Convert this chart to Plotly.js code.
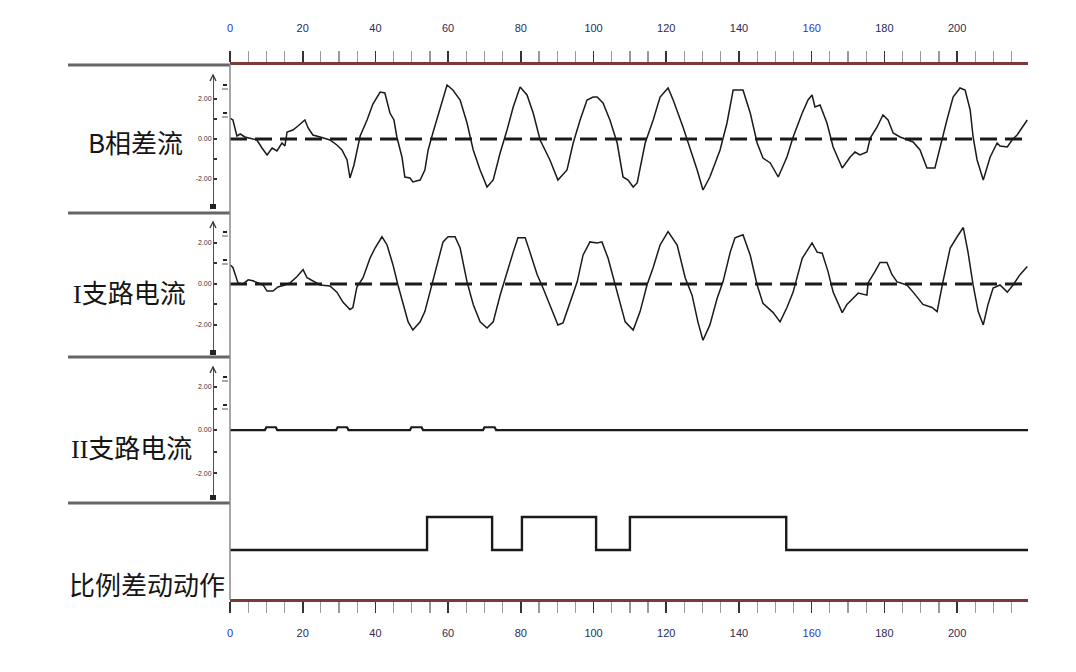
<!DOCTYPE html>
<html>
<head>
<meta charset="utf-8">
<script src="https://cdn.plot.ly/plotly-3.0.1.min.js"></script>
<style>html,body{margin:0;padding:0;background:#fff;}#chart{width:1076px;height:672px;}</style>
</head>
<body>
<div id="chart"></div>
<script>
// ---------- data ----------
const panelLabels = ["B相差流", "<span style='font-family:Liberation Serif'>I</span>支路电流", "<span style='font-family:Liberation Serif'>II</span>支路电流", "比例差动动作"];
const xTickVals = [0, 20, 40, 60, 80, 100, 120, 140, 160, 180, 200];
const xTickText = ["<span style='color:#2233cc'>0</span>", "20", "40", "60", "80", "100", "120", "140", "<span style='color:#3333cc'>160</span>", "180", "200"];
const yTickVals = [-2, -1, 0, 1, 2];
const yTickText = ["-2.00", "", "0.00", "", "2.00"];
const xEnd = 219.5;

const bDiffX = [0,0.8,1.9,2.8,4.1,5.5,7.4,8.8,10.2,11.6,12.9,14.3,15.1,15.7,17.3,18.7,20.6,21.5,22.8,24.8,27.5,29.4,30.8,32.2,33.0,34.1,34.9,35.8,37.7,39.3,41.3,42.6,44.0,45.1,45.9,47.3,48.1,49.5,50.3,52.3,53.6,54.5,55.8,57.8,59.7,61.3,63.3,65.2,66.9,68.8,70.7,72.4,74.3,76.2,77.9,79.8,81.7,83.4,85.3,88.0,90.2,92.7,94.4,96.3,98.2,99.9,101.0,102.6,104.5,106.5,108.1,109.5,110.9,112.0,112.8,114.2,116.4,118.3,120.5,121.9,124.6,126.5,128.5,130.1,132.0,134.8,136.7,138.4,141.1,143.1,145.0,146.6,148.6,150.8,153.2,154.9,157.4,159.0,160.1,160.9,162.3,164.2,165.9,168.4,170.6,171.9,173.3,175.2,176.1,178.0,179.6,181.0,182.4,184.3,187.9,189.8,191.7,193.9,195.3,197.2,198.9,200.8,202.2,203.6,204.4,205.5,207.2,209.1,211.0,211.8,213.8,215.1,216.5,219.3];
const bDiffY = [1.05,0.95,0.15,0.25,0.1,0.05,-0.05,-0.45,-0.8,-0.45,-0.6,-0.2,-0.35,0.35,0.45,0.65,0.95,0.55,0.2,0.1,-0.05,-0.3,-0.55,-1.05,-1.95,-1.3,-0.55,0.15,0.95,1.75,2.35,2.3,1.3,0.95,0.1,-0.9,-1.9,-1.95,-2.15,-2.05,-1.55,-0.55,0.3,1.6,2.7,2.45,1.95,0.8,-0.55,-1.55,-2.4,-2.05,-0.7,0.45,1.6,2.6,2.2,1.3,-0.05,-1.05,-2.05,-1.55,-0.2,0.95,1.95,2.1,2.1,1.8,0.95,-0.2,-1.9,-2.05,-2.4,-2.2,-1.4,-0.2,0.95,2.1,2.55,1.95,0.6,-0.4,-1.55,-2.55,-1.9,-0.55,0.8,2.45,2.45,1.3,-0.2,-0.95,-1.2,-1.9,-0.9,0.1,1.3,1.95,2.2,1.6,1.7,0.8,-0.4,-1.45,-0.9,-0.65,-0.8,-0.65,0.05,0.6,1.2,0.95,0.3,0.1,-0.15,-0.55,-1.45,-1.45,-0.4,0.95,2.1,2.55,2.45,1.45,0.1,-1.05,-2.05,-0.9,-0.2,-0.35,-0.4,-0.05,0.2,0.95];

const branch1X = [0,0.8,2.2,3.6,5.0,6.3,9.1,10.2,11.8,13.2,15.1,16.5,18.4,20.1,21.2,23.4,24.8,27.5,29.4,31.1,33.0,33.8,34.9,36.6,38.5,39.9,41.8,43.2,44.8,46.2,47.6,49.0,50.3,52.3,53.6,55.0,56.9,58.6,60.0,61.9,63.3,65.2,66.9,68.8,70.7,72.4,74.3,76.2,77.9,79.2,81.2,82.5,84.5,86.1,88.0,90.2,91.6,93.5,95.5,97.1,99.0,101.0,102.3,104.0,105.9,107.3,108.7,110.9,112.8,114.7,116.4,118.3,120.5,123.0,125.2,127.1,128.7,130.1,132.0,134.0,135.6,137.6,138.9,141.1,143.1,145.0,146.6,149.4,151.3,153.2,154.9,157.4,160.1,161.5,162.9,164.5,165.9,168.4,169.7,171.4,172.8,175.2,175.5,177.4,178.8,180.7,182.1,183.5,186.2,187.9,190.6,193.1,194.5,196.1,198.1,200.0,201.7,203.0,204.4,205.8,207.2,208.5,209.9,211.8,213.8,215.4,217.3,219.3];
const branch1Y = [0.93,0.8,0.05,0,0.2,0.15,-0.05,-0.35,-0.35,-0.15,-0.05,0.05,0.35,0.7,0.3,0.1,-0.05,-0.1,-0.4,-0.9,-1.25,-1.15,-0.15,0.3,1.25,1.75,2.3,1.9,0.95,-0.05,-0.9,-1.85,-2.25,-1.85,-1.35,-0.4,0.95,2.05,2.3,2.3,1.75,0.1,-1.0,-1.85,-2.15,-1.85,-0.55,0.6,1.55,2.25,2.25,1.55,0.45,-0.2,-1.0,-2.0,-1.9,-0.9,0.1,1.4,2.05,2.0,2.05,1.25,-0.05,-0.9,-1.85,-2.25,-1.35,-0.05,0.8,1.9,2.55,1.9,0.3,-0.55,-1.85,-2.75,-2.0,-0.7,0.1,1.55,2.25,2.4,1.4,-0.05,-0.95,-1.4,-1.85,-1.15,-0.4,1.25,2.0,1.55,1.5,0.6,-0.4,-1.4,-1.0,-0.7,-0.45,-0.55,0.05,0.6,1.05,1.05,0.45,0.1,-0.05,-0.4,-1.0,-1.15,-1.35,0.1,1.75,2.3,2.75,1.55,-0.05,-1.35,-2.0,-1.0,-0.2,-0.05,-0.4,-0.05,0.45,0.85];

const branch2X = [0,9.6,10.0,12.6,13.0,29.2,29.6,32.2,32.6,49.5,49.9,52.7,53.1,69.6,70.0,72.8,73.2,219.5];
const branch2Y = [0,0,0.13,0.13,0,0,0.13,0.13,0,0,0.13,0.13,0,0,0.13,0.13,0,0];

const tripX = [0, 54.2, 72.1, 80.3, 100.7, 110.0, 153.0, 219.5];
const tripY = [0, 1, 0, 1, 0, 1, 0, 0];

// ---------- layout helpers (pixel -> paper) ----------
const W = 1076, H = 672;
const fx = p => p / W;
const fy = p => 1 - p / H;

const waveLine = {color: '#1a1a1a', width: 1.5};
const dashLine = {color: '#1a1a1a', width: 3, dash: '17px,8px'};

const traces = [
  {x: [0, xEnd], y: [0, 0], xaxis: 'x', yaxis: 'y', mode: 'lines', line: dashLine, hoverinfo: 'skip'},
  {x: bDiffX, y: bDiffY, xaxis: 'x', yaxis: 'y', mode: 'lines', line: waveLine},
  {x: [0, xEnd], y: [0, 0], xaxis: 'x', yaxis: 'y2', mode: 'lines', line: dashLine, hoverinfo: 'skip'},
  {x: branch1X, y: branch1Y, xaxis: 'x', yaxis: 'y2', mode: 'lines', line: waveLine},
  {x: branch2X, y: branch2Y, xaxis: 'x', yaxis: 'y3', mode: 'lines', line: {color: '#1a1a1a', width: 2.2}},
  {x: tripX, y: tripY, xaxis: 'x', yaxis: 'y4', mode: 'lines', line: {color: '#1a1a1a', width: 2.4, shape: 'hv'}},
  {x: [0], y: [0], xaxis: 'x2', yaxis: 'y', mode: 'markers', marker: {opacity: 0}, hoverinfo: 'skip'}
];

const xCommon = {
  domain: [fx(230), fx(1028)], range: [0, xEnd], anchor: 'free',
  showline: true, linecolor: '#7b3a36', linewidth: 2.5,
  showgrid: false, zeroline: false,
  ticks: 'outside', ticklen: 11, tickwidth: 1.6, tickcolor: '#333',
  tickvals: xTickVals, ticktext: xTickText,
  tickfont: {family: 'Liberation Sans Narrow, Arial Narrow, sans-serif', size: 11, color: '#2b2b55'},
  minor: {dtick: 5, tick0: 0, ticks: 'outside', ticklen: 11, tickwidth: 1.2, tickcolor: '#9a9a9a', showgrid: false}
};

function yAx(topPx, botPx, range) {
  return {
    domain: [fy(botPx), fy(topPx)], range: range, anchor: 'free', position: fx(213),
    showline: true, linecolor: '#4a4a66', linewidth: 1.4,
    showgrid: false, zeroline: false,
    ticks: 'inside', ticklen: 3, tickwidth: 2, tickcolor: '#333',
    tickvals: yTickVals, ticktext: yTickText,
    tickfont: {family: 'Liberation Sans Narrow, Arial Narrow, sans-serif', size: 7, color: '#333333'}
  };
}

const shapes = [];
[65, 213, 357, 503].forEach(y => shapes.push({type: 'line', xref: 'paper', yref: 'paper', x0: fx(68), x1: fx(230), y0: fy(y), y1: fy(y), line: {color: '#666', width: 3}}));
shapes.push({type: 'line', xref: 'paper', yref: 'paper', x0: fx(230), x1: fx(230), y0: fy(64), y1: fy(600), line: {color: '#8a8a8a', width: 1.5}});
[[75, 207], [222, 353], [367, 498]].forEach(([t, b]) => {
  shapes.push({type: 'path', xref: 'paper', yref: 'paper',
    path: `M ${fx(210)} ${fy(t + 6)} L ${fx(213)} ${fy(t)} L ${fx(216)} ${fy(t + 6)}`, line: {color: '#333', width: 1.3}});
  shapes.push({type: 'rect', xref: 'paper', yref: 'paper', x0: fx(210), x1: fx(216), y0: fy(b + 2), y1: fy(b - 3), fillcolor: '#222', line: {width: 0}});
  [t + 10, t + 38].forEach(yy => {
    shapes.push({type: 'line', xref: 'paper', yref: 'paper', x0: fx(223), x1: fx(227), y0: fy(yy), y1: fy(yy), line: {color: '#222', width: 2}});
    shapes.push({type: 'line', xref: 'paper', yref: 'paper', x0: fx(222), x1: fx(228), y0: fy(yy + 4), y1: fy(yy + 4), line: {color: '#aaa', width: 2}});
  });
});

const labelPos = [[135, 141], [129, 291], [131, 446], [147, 583]];
const annotations = panelLabels.map((t, i) => ({
  text: t, xref: 'paper', yref: 'paper', x: fx(labelPos[i][0]), y: fy(labelPos[i][1]),
  xanchor: 'center', yanchor: 'middle', showarrow: false,
  font: {family: 'Noto Sans CJK SC, sans-serif', size: 26, color: '#151515'}
}));

const layout = {
  width: W, height: H, margin: {l: 0, r: 0, t: 0, b: 0},
  paper_bgcolor: '#fff', plot_bgcolor: 'rgba(0,0,0,0)', showlegend: false,
  xaxis: Object.assign({}, xCommon, {position: fy(600), side: 'bottom', ticklabelstandoff: 11}),
  xaxis2: Object.assign({}, xCommon, {position: fy(63), side: 'top', overlaying: 'x', matches: 'x', ticklabelstandoff: 15}),
  yaxis: yAx(75, 207, [-3.4, 3.2]),
  yaxis2: yAx(222, 353, [-3.37, 3.02]),
  yaxis3: yAx(367, 498, [-3.16, 2.93]),
  yaxis4: {domain: [fy(598), fy(505)], range: [-1.455, 1.364], anchor: 'free', position: fx(230), visible: false},
  shapes: shapes, annotations: annotations
};

Plotly.newPlot('chart', traces, layout, {staticPlot: true, displayModeBar: false});
</script>
</body>
</html>
